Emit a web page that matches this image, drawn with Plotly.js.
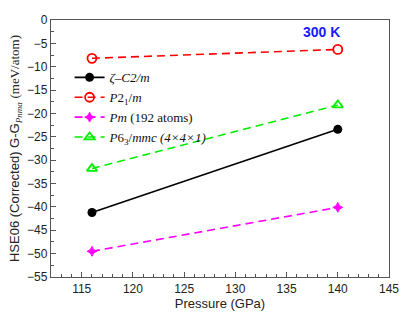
<!DOCTYPE html>
<html>
<head>
<meta charset="utf-8">
<script src="https://cdn.plot.ly/plotly-3.0.1.min.js"></script>
<style>
  html, body { margin: 0; padding: 0; background: #fff; }
  #chart { width: 415px; height: 321px; }
</style>
</head>
<body>
<div id="chart"></div>
<script>
// pressures (GPa) where each phase was computed
const pressure = [116, 140];

// G - G(Pnma), meV/atom
const zetaC2m = [-41.2, -23.4];
const p21m = [-8.2, -6.3];
const pm192 = [-49.5, -40.1];
const p63mmc = [-31.8, -18.2];

const xTicks = [115, 120, 125, 130, 135, 140, 145];
const yTicks = [0, -5, -10, -15, -20, -25, -30, -35, -40, -45, -50, -55];

const serif = 'Liberation Serif, Times New Roman, serif';
const sans = 'Liberation Sans, Arial, sans-serif';

const traces = [
    {
        x: pressure, y: zetaC2m,
        name: '<i>ζ–C2/m</i>',
        mode: 'lines+markers', type: 'scatter',
        line: { color: '#000000', width: 1.6 },
        marker: { symbol: 'circle', size: 9, color: '#000000' }
    },
    {
        x: pressure, y: p21m,
        name: '<i>P</i>2<sub>1</sub>/<i>m</i>',
        mode: 'lines+markers', type: 'scatter',
        line: { color: '#ff0000', width: 1.6, dash: '8px,5px' },
        marker: { symbol: 'circle-open', size: 9, color: '#ff0000', line: { width: 1.8 } }
    },
    {
        x: pressure, y: pm192,
        name: '<i>Pm</i> (192 atoms)',
        mode: 'lines+markers', type: 'scatter',
        line: { color: '#ff00ff', width: 1.6, dash: '8px,5px' },
        marker: { symbol: 'star-diamond', size: 7, color: '#ff00ff', line: { width: 1, color: '#ff00ff' } }
    },
    {
        x: pressure, y: p63mmc,
        name: '<i>P</i>6<sub>3</sub>/<i>mmc (4×4×1)</i>',
        mode: 'lines+markers', type: 'scatter',
        line: { color: '#00ee00', width: 1.6, dash: '8px,5px' },
        marker: { symbol: 'triangle-up-open', size: 9, color: '#00ee00', line: { width: 1.8 } }
    }
];

const axisCommon = {
    showline: true, mirror: true, linecolor: '#555', linewidth: 1.2,
    ticks: 'inside', ticklen: 5, tickcolor: '#555',
    showgrid: false, zeroline: false,
    tickfont: { family: sans, size: 12, color: '#222' }
};

const layout = {
    width: 415, height: 321,
    margin: { l: 51, r: 26, t: 20, b: 44 },
    paper_bgcolor: '#fff', plot_bgcolor: '#fff',
    showlegend: true,
    legend: {
        x: 0.055, y: 0.835, xanchor: 'left', yanchor: 'top',
        bgcolor: 'rgba(0,0,0,0)', borderwidth: 0,
        font: { family: serif, size: 13, color: '#111' },
        tracegroupgap: 0, itemwidth: 30
    },
    xaxis: Object.assign({}, axisCommon, {
        range: [112, 145],
        tickvals: xTicks,
        minor: { dtick: 1, ticks: 'inside', ticklen: 3, tickcolor: '#555' },
        title: { text: 'Pressure (GPa)', font: { family: sans, size: 13, color: '#222' }, standoff: 2 }
    }),
    yaxis: Object.assign({}, axisCommon, {
        range: [-55, 0],
        tickvals: yTicks,
        minor: { dtick: 2.5, ticks: 'inside', ticklen: 3, tickcolor: '#555' },
        title: {
            text: 'HSE06 (Corrected) G-G<sub><i style="font-family:Liberation Serif">Pnma</i></sub> <span style="font-family:Liberation Serif">(meV/atom)</span>',
            font: { family: sans, size: 13, color: '#222' },
            standoff: 4
        }
    }),
    annotations: [{
        xref: 'paper', yref: 'paper', x: 0.80, y: 0.953,
        xanchor: 'center', yanchor: 'middle',
        text: '<b>300 K</b>', showarrow: false,
        font: { family: sans, size: 14, color: '#1a1aff' }
    }]
};

Plotly.newPlot('chart', traces, layout, { displayModeBar: false, staticPlot: true });
</script>
</body>
</html>
